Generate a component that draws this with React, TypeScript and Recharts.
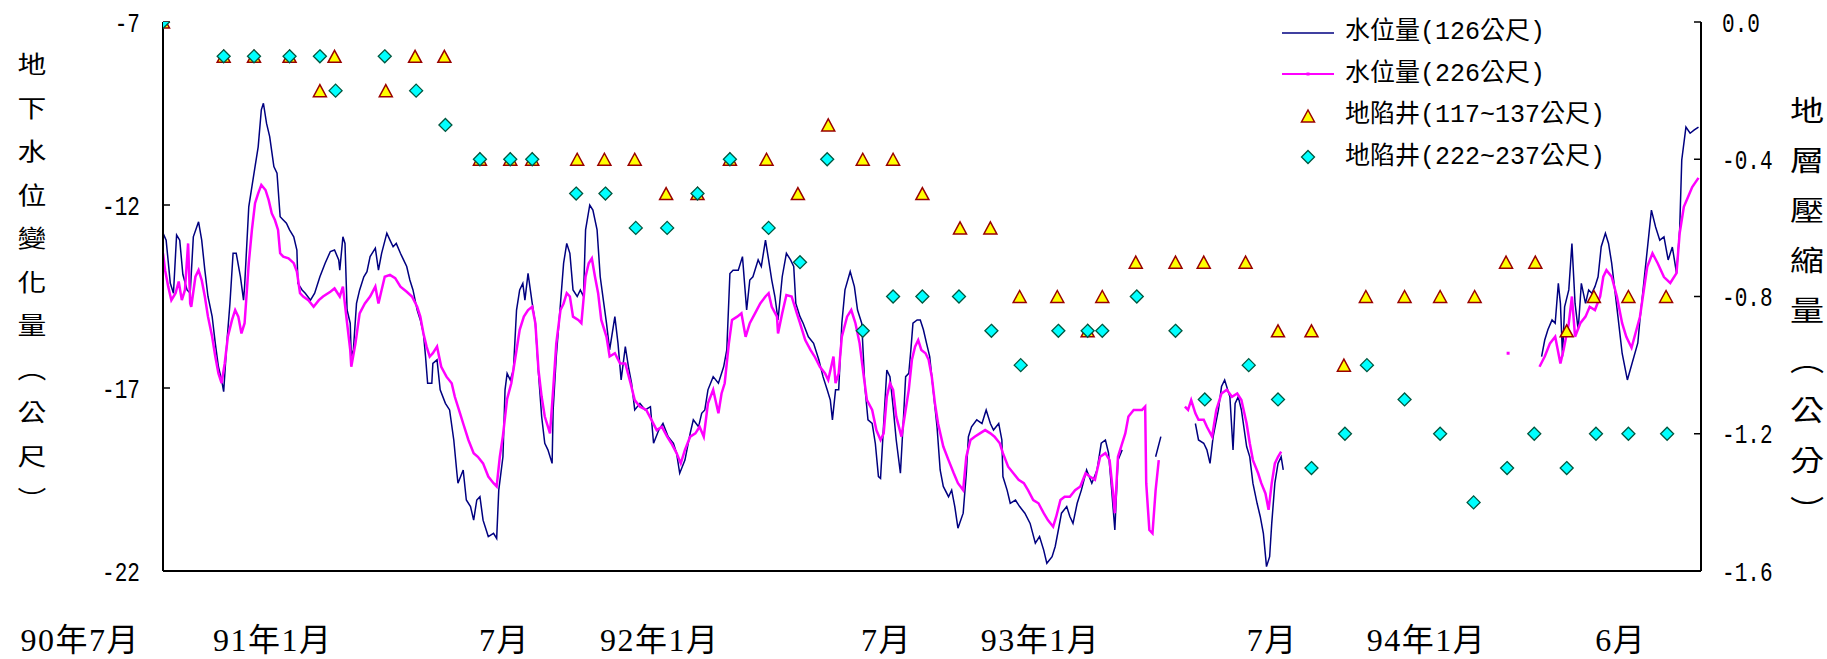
import React from 'react';
import { ComposedChart, Line, Scatter, XAxis, YAxis } from 'recharts';

// ---- data (x = days since 90年7月1日) ----
const blueDays = [
  22,25,29,32,35,38,41,45,48,51,
  56,59,62,65,69,72,75,78,80,83,
  86,89,92,96,99,100,102,104,107,110,
  113,116,118,121,124,128,131,134,137,140,
  143,147,150,151,155,158,163,167,172,177,
  182,186,190,191,194,196,198,201,202,204,
  207,210,214,217,220,225,228,231,236,239,
  242,245,249,252,255,258,261,265,268,271,
  273,275,279,280,284,287,292,296,300,303,
  304,309,312,316,319,322,325,328,333,338,
  341,343,347,349,351,354,357,360,363,366,
  368,371,375,378,381,384,387,390,394,395,
  398,402,405,408,411,414,418,421,424,426,
  430,433,437,440,443,446,449,454,457,460,
  464,467,470,473,478,483,488,491,496,500,
  505,510,513,516,521,526,529,534,537,540,
  543,548,553,558,561,564,567,572,576,580,
  583,586,591,594,598,601,604,607,610,614,
  618,622,625,627,631,634,639,644,649,653,
  657,660,662,665,668,671,674,679,683,686,
  690,693,696,700,703,706,708,711,714,717,
  720,723,727,730,732,735,737,739,743,746,
  749,752,755,759,762,765,768,773,776,779,
  782,787,790,792,795,800,805,808,809,813,
  816,821,824,825,829,832,837,841,846,851,
  856,860,864,867,872,875,878,881,886,889,
  892,896,900,905,910,915,919,923,926,929,
  932,935,939,945,971,976,990,1009,1012,1017,
  1020,1023,1026,1031,1034,1037,1042,1045,1047,1050,
  1053,1058,1061,1064,1068,1071,1074,1077,1080,1082,
  1085,1088,1091,1093,1100,1340,1343,1346,1350,1353,
  1356,1358,1360,1362,1366,1369,1372,1375,1378,1382,
  1385,1388,1391,1394,1397,1401,1404,1407,1410,1413,
  1417,1422,1432,1434,1445,1449,1453,1457,1461,1465,
  1469,1472,1474,1478,1482,1486,1490,
];
const blueVals: (number | null)[] = [
  -12.77,-12.96,-14.14,-14.41,-12.82,-12.96,-13.90,-14.32,-14.41,-12.87,
  -12.46,-12.96,-13.78,-14.50,-15.05,-15.78,-16.42,-16.78,-17.10,-15.78,
  -14.69,-13.32,-13.32,-13.96,-14.60,-14.23,-13.14,-12.05,-11.50,-10.95,
  -10.41,-9.40,-9.22,-9.77,-10.13,-10.95,-11.13,-12.32,-12.41,-12.50,
  -12.68,-12.87,-13.23,-14.14,-14.32,-14.41,-14.60,-14.41,-13.96,-13.59,
  -13.27,-13.23,-13.50,-13.78,-12.87,-13.05,-14.87,-15.23,-16.14,-15.96,
  -14.69,-14.32,-13.96,-13.82,-13.41,-13.18,-13.78,-13.32,-12.77,-12.96,
  -13.14,-13.05,-13.32,-13.50,-13.68,-14.05,-14.32,-14.87,-15.14,-15.51,
  -16.14,-16.87,-16.87,-16.33,-16.23,-17.05,-17.42,-17.60,-18.42,-19.33,
  -19.60,-19.24,-20.06,-20.24,-20.61,-20.06,-19.97,-20.61,-21.06,-20.97,
  -21.11,-19.79,-18.88,-17.05,-16.60,-16.78,-16.51,-14.87,-14.32,-14.14,
  -14.60,-13.87,-14.69,-15.23,-16.60,-17.78,-18.51,-18.69,-19.06,-17.60,
  -16.14,-14.69,-13.59,-13.05,-13.32,-14.32,-14.50,-14.32,-14.50,-12.68,
  -12.00,-12.14,-12.68,-13.96,-14.60,-15.23,-15.96,-15.05,-15.78,-16.78,
  -15.87,-16.42,-16.87,-17.60,-17.42,-17.60,-17.51,-18.51,-18.15,-17.97,
  -18.33,-18.51,-18.78,-19.33,-18.97,-18.24,-17.87,-18.06,-17.69,-17.60,
  -17.05,-16.69,-16.87,-16.42,-15.96,-13.87,-13.78,-13.78,-13.41,-14.87,
  -14.05,-13.96,-13.50,-13.68,-12.96,-13.50,-14.05,-14.50,-15.14,-13.96,
  -13.32,-13.50,-13.68,-14.69,-15.05,-15.23,-15.60,-15.78,-16.23,-16.69,
  -17.05,-17.33,-17.87,-17.05,-17.05,-15.23,-14.32,-13.82,-14.23,-14.87,
  -15.23,-16.96,-17.87,-17.97,-18.51,-19.42,-19.47,-17.97,-16.51,-16.69,
  -17.51,-18.42,-19.33,-17.78,-16.69,-16.60,-15.96,-15.23,-15.14,-15.14,
  -15.41,-15.78,-16.14,-17.24,-18.06,-19.24,-19.69,-19.97,-19.79,-20.24,
  -20.83,-20.42,-19.33,-18.33,-18.06,-17.87,-17.97,-17.69,-17.60,-17.97,
  -18.15,-17.97,-18.42,-19.42,-19.79,-20.15,-20.06,-20.24,-20.42,-20.70,
  -21.24,-21.06,-21.43,-21.79,-21.61,-21.33,-20.88,-20.42,-20.24,-20.51,
  -20.70,-20.15,-19.79,-19.24,-19.60,-19.24,-18.51,-18.42,-18.78,-19.79,
  -20.88,-18.97,-18.69,null,-18.88,-18.33,null,-17.97,-18.42,-18.51,
  -18.69,-19.06,-18.33,-17.60,-16.96,-16.78,-17.24,-18.69,-17.42,-17.24,
  -17.60,-18.60,-18.88,-19.60,-20.15,-20.51,-20.97,-21.88,-21.61,-20.70,
  -19.60,-19.06,-18.88,-19.24,null,-16.14,-15.69,-15.41,-15.14,-15.23,
  -14.14,-14.69,-16.14,-14.78,-14.32,-13.05,-14.69,-15.41,-14.14,-14.69,
  -14.32,-14.41,-14.23,-13.96,-13.14,-12.77,-13.05,-13.59,-14.32,-15.05,
  -16.05,-16.78,-15.77,-15.14,-12.14,-12.60,-12.96,-12.87,-13.50,-13.15,
  -13.86,-12.68,-10.77,-9.87,-10.04,-9.95,-9.87,
];

const pinkDays = [
  22,24,27,30,34,37,40,43,46,48,
  49,53,56,59,62,65,69,72,75,78,
  81,84,88,91,94,97,100,104,107,110,
  113,116,120,123,126,129,132,134,137,142,
  147,150,153,156,161,166,171,175,182,186,
  191,194,198,201,202,206,210,215,220,225,
  228,231,234,239,244,249,255,260,265,268,
  271,274,277,280,284,288,293,298,301,306,
  309,314,319,323,328,333,338,341,344,347,
  351,355,360,363,367,371,375,378,381,384,
  387,392,395,398,402,405,408,411,414,419,
  422,426,429,432,435,438,441,446,449,454,
  459,464,469,473,478,484,489,494,499,504,
  508,513,517,521,526,531,535,539,543,548,
  553,556,559,563,566,571,575,579,583,588,
  593,598,601,604,609,610,614,618,623,628,
  631,636,641,645,650,655,658,663,665,668,
  671,676,680,684,688,692,695,700,704,708,
  711,714,717,720,723,728,731,735,738,741,
  744,747,751,754,757,760,763,768,773,778,
  782,787,790,794,798,803,808,813,817,822,
  825,830,835,840,845,849,854,859,864,868,
  873,876,880,884,889,894,899,904,908,913,
  918,923,927,930,932,935,939,942,945,950,
  955,958,961,962,965,968,971,974,985,999,
  1002,1005,1009,1012,1017,1020,1025,1029,1034,1039,
  1044,1049,1053,1058,1061,1064,1069,1072,1076,1079,
  1082,1085,1088,1091,1100,1338,1343,1348,1353,1358,
  1361,1366,1369,1372,1377,1382,1386,1391,1396,1399,
  1402,1407,1412,1417,1421,1426,1434,1441,1446,1451,
  1457,1463,1469,1472,1476,1480,1484,1490,
];
const pinkVals: (number | null)[] = [
  -13.32,-13.78,-14.23,-14.60,-14.41,-14.09,-14.60,-14.32,-13.05,-14.69,
  -14.78,-13.96,-13.78,-14.05,-14.50,-15.05,-15.60,-16.14,-16.60,-16.87,
  -16.33,-15.60,-15.14,-14.87,-15.05,-15.51,-15.23,-13.59,-12.68,-11.95,
  -11.68,-11.45,-11.59,-11.86,-12.23,-12.41,-12.68,-13.32,-13.41,-13.46,
  -13.59,-13.82,-14.41,-14.50,-14.60,-14.78,-14.60,-14.50,-14.37,-14.28,
  -14.50,-14.23,-15.23,-15.96,-16.42,-15.78,-14.96,-14.69,-14.50,-14.23,
  -14.69,-14.32,-13.96,-13.91,-14.00,-14.23,-14.37,-14.50,-14.78,-15.05,
  -15.51,-15.87,-16.14,-16.05,-15.87,-16.42,-16.69,-16.87,-17.24,-17.69,
  -17.97,-18.42,-18.78,-18.88,-19.06,-19.42,-19.60,-19.69,-18.88,-18.30,
  -17.30,-16.87,-15.96,-15.41,-15.05,-14.87,-14.78,-15.23,-16.51,-17.24,
  -17.78,-18.24,-17.05,-15.78,-14.87,-14.69,-14.41,-14.50,-15.05,-15.14,
  -15.23,-13.96,-13.59,-13.46,-13.96,-14.41,-15.14,-15.60,-16.14,-16.05,
  -16.33,-16.33,-16.87,-17.33,-17.51,-17.60,-17.87,-18.15,-18.06,-18.33,
  -18.51,-18.78,-19.06,-18.69,-18.33,-18.24,-18.06,-18.33,-17.42,-17.05,
  -17.69,-17.15,-16.87,-15.78,-15.14,-15.05,-14.96,-15.60,-15.23,-14.96,
  -14.69,-14.50,-14.41,-14.78,-15.05,-15.51,-14.96,-14.46,-14.50,-14.96,
  -15.23,-15.69,-15.96,-16.14,-16.42,-16.60,-16.78,-16.14,-16.87,-16.60,
  -15.60,-15.05,-14.87,-15.23,-15.78,-16.69,-17.33,-17.60,-18.15,-18.42,
  -18.24,-17.24,-16.87,-17.05,-17.78,-18.33,-17.78,-17.05,-16.23,-15.87,
  -15.69,-15.96,-16.05,-16.23,-16.69,-17.42,-17.97,-18.60,-18.97,-19.33,
  -19.60,-19.79,-18.88,-18.42,-18.33,-18.24,-18.15,-18.24,-18.33,-18.51,
  -18.78,-19.15,-19.33,-19.51,-19.60,-19.79,-20.06,-20.15,-20.42,-20.61,
  -20.79,-20.51,-20.06,-19.97,-19.97,-19.79,-19.69,-19.33,-19.42,-19.51,
  -18.88,-18.78,-18.97,-19.79,-20.42,-18.88,-18.51,-18.24,-17.78,-17.60,
  -17.60,-17.60,-17.51,-19.60,-20.88,-20.97,-19.79,-18.97,null,-17.51,
  -17.60,-17.33,-17.69,-17.87,-17.87,-18.06,-18.33,-17.60,-17.15,-17.05,
  -17.24,-17.15,-17.33,-17.97,-18.51,-18.97,-19.33,-19.60,-19.88,-20.33,
  -19.60,-19.06,-18.88,-18.74,null,-16.42,-16.14,-15.78,-15.60,-16.33,
  -15.96,-15.23,-14.50,-15.60,-15.23,-15.05,-14.78,-14.87,-14.50,-13.96,
  -13.78,-13.96,-14.50,-15.23,-15.60,-15.90,-15.06,-13.69,-13.32,-13.59,
  -13.97,-14.13,-13.86,-12.77,-12.05,-11.78,-11.51,-11.26,
];

const pinkDotDays = [1308];
const pinkDotVals = [-16.05];

const triDays = [
  22,80,109,143,172,186,235,263,291,325,
  354,375,418,444,473,503,533,564,599,629,
  658,691,720,748,784,813,841,877,906,920,
  952,990,1017,1057,1088,1120,1151,1172,1209,1243,
  1276,1306,1334,1364,1390,1423,1459,
];
const triVals = [
  0,-0.1,-0.1,-0.1,-0.2,-0.1,-0.2,-0.1,-0.1,-0.4,
  -0.4,-0.4,-0.4,-0.4,-0.4,-0.5,-0.5,-0.4,-0.4,-0.5,
  -0.3,-0.4,-0.4,-0.5,-0.6,-0.6,-0.8,-0.8,-0.9,-0.8,
  -0.7,-0.7,-0.7,-0.7,-0.9,-0.9,-1.0,-0.8,-0.8,-0.8,
  -0.8,-0.7,-0.7,-0.9,-0.8,-0.8,-0.8,
];

const diaDays = [
  22,80,109,143,172,187,234,264,292,325,
  354,375,417,445,474,504,533,564,601,631,
  657,691,720,748,783,814,842,878,906,920,
  953,990,1018,1060,1088,1120,1152,1173,1209,1243,
  1275,1307,1333,1364,1392,1423,1460,
];
const diaVals = [
  0,-0.1,-0.1,-0.1,-0.1,-0.2,-0.1,-0.2,-0.3,-0.4,
  -0.4,-0.4,-0.5,-0.5,-0.6,-0.6,-0.5,-0.4,-0.6,-0.7,
  -0.4,-0.9,-0.8,-0.8,-0.8,-0.9,-1.0,-0.9,-0.9,-0.9,
  -0.8,-0.9,-1.1,-1.0,-1.1,-1.3,-1.2,-1.0,-1.1,-1.2,
  -1.4,-1.3,-1.2,-1.3,-1.2,-1.2,-1.2,
];

const xTickDays = [0, 184, 373, 554, 738, 918, 1107, 1287, 1440];
const xTickLabels = ['90年7月', '91年1月', '7月', '92年1月', '7月', '93年1月', '7月', '94年1月', '6月'];
const xDomain = [22, 1492.4];
const leftTicks = [-22, -17, -12, -7];
const rightTicks = [-1.6, -1.2, -0.8, -0.4, 0];
const seriesNames = ['水位量(126公尺)', '水位量(226公尺)', '地陷井(117~137公尺)', '地陷井(222~237公尺)'];
const leftTitle = ['地', '下', '水', '位', '變', '化', '量', '︵', '公', '尺', '︶'];
const rightTitle = ['地', '層', '壓', '縮', '量', '︵', '公', '分', '︶'];

const zip = (d: number[], v: (number | null)[]) => d.map((day, i) => ({ day, v: v[i] }));
const blueData = zip(blueDays, blueVals);
const pinkData = zip(pinkDays, pinkVals);
const pinkDotData = zip(pinkDotDays, pinkDotVals);
const triData = zip(triDays, triVals);
const diaData = zip(diaDays, diaVals);

const NAVY = '#000080';
const PINK = '#FF00FF';
const MONO = '"Liberation Mono","Noto Sans CJK TC",monospace';
const SERIF = '"Liberation Serif","Noto Sans CJK TC",serif';
const CJK = '"Noto Sans CJK TC",sans-serif';

const TriShape = (p: any) => {
  const { cx, cy } = p;
  if (cx == null || cy == null) return null;
  return (
    <polygon
      points={`${cx},${cy - 6} ${cx + 6.5},${cy + 6} ${cx - 6.5},${cy + 6}`}
      fill="#FFFF00"
      stroke="#990000"
      strokeWidth={1.5}
    />
  );
};
const DiaShape = (p: any) => {
  const { cx, cy } = p;
  if (cx == null || cy == null) return null;
  return (
    <polygon
      points={`${cx},${cy - 6.5} ${cx + 6.5},${cy} ${cx},${cy + 6.5} ${cx - 6.5},${cy}`}
      fill="#00FFFF"
      stroke="#00573F"
      strokeWidth={1.3}
    />
  );
};
const DotShape = (p: any) => {
  const { cx, cy } = p;
  if (cx == null || cy == null) return null;
  return <rect x={cx - 1.5} y={cy - 1.5} width={3} height={3} fill={PINK} />;
};

const XTick = (p: any) => {
  const { x, payload } = p;
  const label = xTickLabels[payload.index] ?? '';
  return (
    <text x={x} y={651} textAnchor="end" fontFamily={SERIF} fontSize={32} letterSpacing={1.5} fill="#000">
      {label}
    </text>
  );
};

// condensed, tall tick numerals like the reference
const YTick = (p: any) => {
  const { x, y, payload, textAnchor, fmt } = p;
  const label = fmt ? fmt(payload.value) : String(payload.value);
  return (
    <g transform={`translate(${x},${y})`}>
      <text transform="scale(0.78,1)" textAnchor={textAnchor} dy="0.36em" fontFamily={MONO} fontSize={27} fill="#000">
        {label}
      </text>
    </g>
  );
};
const fmtRight = (v: number) => v.toFixed(1);

const LegendIcon = ({ i }: { i: number }) => {
  if (i === 0) return <line x1={0} x2={52} y1={21} y2={21} stroke={NAVY} strokeWidth={1.5} />;
  if (i === 1)
    return (
      <g>
        <line x1={0} x2={52} y1={21} y2={21} stroke={PINK} strokeWidth={2} />
        <rect x={24.5} y={19.5} width={3} height={3} fill={PINK} />
      </g>
    );
  if (i === 2) return <TriShape cx={26} cy={21} />;
  return <DiaShape cx={26} cy={21} />;
};

export default function App() {
  return (
    <div style={{ position: 'absolute', left: 0, top: 0, width: 1827, height: 659, background: '#fff', overflow: 'hidden' }}>
      <ComposedChart width={1827} height={659} margin={{ top: 22, right: 0, bottom: 0, left: 0 }}>
        <XAxis
          xAxisId="x"
          dataKey="day"
          type="number"
          domain={xDomain}
          allowDataOverflow
          ticks={xTickDays}
          interval={0}
          tickLine={false}
          tickSize={0}
          height={88}
          axisLine={{ stroke: '#000', strokeWidth: 2 }}
          tick={<XTick />}
        />
        <YAxis
          yAxisId="left"
          orientation="left"
          type="number"
          domain={[-22, -7]}
          allowDataOverflow
          ticks={leftTicks}
          interval={0}
          width={163}
          tickSize={-7}
          tickMargin={30}
          axisLine={{ stroke: '#000', strokeWidth: 2 }}
          tickLine={{ stroke: '#000', strokeWidth: 1.5 }}
          tick={<YTick />}
        />
        <YAxis
          yAxisId="right"
          orientation="right"
          type="number"
          domain={[-1.6, 0]}
          allowDataOverflow
          ticks={rightTicks}
          interval={0}
          width={126}
          tickSize={-7}
          tickMargin={28}
          axisLine={{ stroke: '#000', strokeWidth: 2 }}
          tickLine={{ stroke: '#000', strokeWidth: 1.5 }}
          tick={<YTick fmt={fmtRight} />}
        />
        <Line
          xAxisId="x"
          yAxisId="left"
          data={blueData}
          dataKey="v"
          name={seriesNames[0]}
          stroke={NAVY}
          strokeWidth={1.5}
          dot={false}
          connectNulls={false}
          isAnimationActive={false}
        />
        <Line
          xAxisId="x"
          yAxisId="left"
          data={pinkData}
          dataKey="v"
          name={seriesNames[1]}
          stroke={PINK}
          strokeWidth={2.5}
          dot={false}
          connectNulls={false}
          isAnimationActive={false}
        />
        <Scatter
          xAxisId="x"
          yAxisId="left"
          data={pinkDotData}
          dataKey="v"
          shape={<DotShape />}
          isAnimationActive={false}
        />
        <Scatter
          xAxisId="x"
          yAxisId="right"
          data={triData}
          dataKey="v"
          name={seriesNames[2]}
          shape={<TriShape />}
          isAnimationActive={false}
        />
        <Scatter
          xAxisId="x"
          yAxisId="right"
          data={diaData}
          dataKey="v"
          name={seriesNames[3]}
          shape={<DiaShape />}
          isAnimationActive={false}
        />
      </ComposedChart>

      {/* legend */}
      <div style={{ position: 'absolute', left: 1282, top: 12, fontFamily: MONO, fontSize: 25, color: '#000' }}>
        {seriesNames.map((n, i) => (
          <div key={n} style={{ display: 'flex', alignItems: 'center', height: 41.5 }}>
            <svg width={52} height={42} style={{ overflow: 'visible' }}>
              <LegendIcon i={i} />
            </svg>
            <span style={{ marginLeft: 11, whiteSpace: 'nowrap', lineHeight: '41.5px' }}>{n}</span>
          </div>
        ))}
      </div>

      {/* left axis title */}
      <div style={{ position: 'absolute', left: 12, top: 41, width: 40, fontFamily: CJK, fontSize: 24, lineHeight: '43.5px', textAlign: 'center', color: '#000' }}>
        {leftTitle.map((c, i) => (
          <div key={i} style={{ transform: 'scaleX(1.2)' }}>{c}</div>
        ))}
      </div>

      {/* right axis title */}
      <div style={{ position: 'absolute', left: 1787, top: 84, width: 40, fontFamily: CJK, fontSize: 28, lineHeight: '50px', textAlign: 'center', color: '#000' }}>
        {rightTitle.map((c, i) => (
          <div key={i} style={{ transform: 'scaleX(1.22)' }}>{c}</div>
        ))}
      </div>
    </div>
  );
}
